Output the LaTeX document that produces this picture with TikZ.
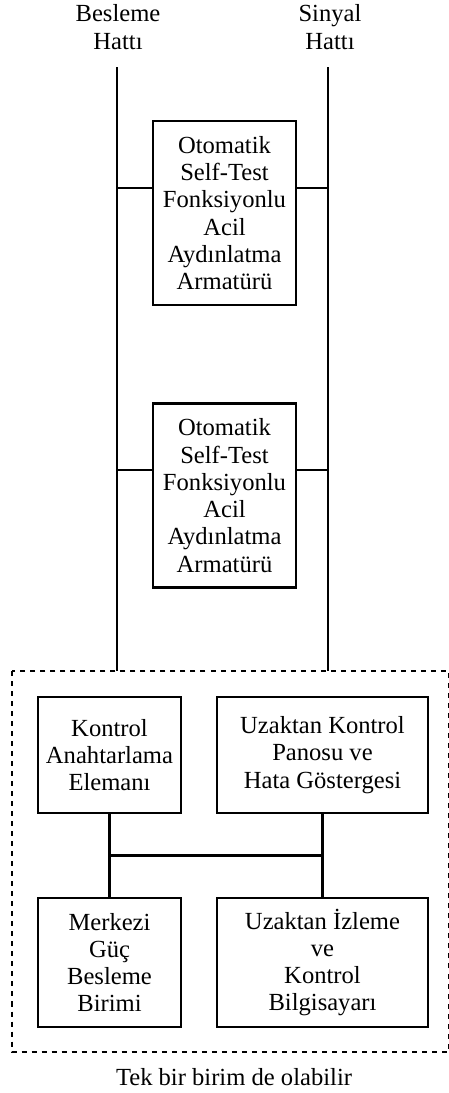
\documentclass[tikz,border=0pt]{standalone}
\usepackage{fontspec}
\setmainfont{Liberation Serif}
\usepackage{tikz}
\usetikzlibrary{calc}
\tikzset{
  armbox/.style={draw, line width=1.35pt, align=center, minimum width=2.86cm, minimum height=3.68cm, inner sep=0pt},
  unitbox/.style={draw, line width=1.35pt, align=center, minimum width=2.86cm, inner sep=0pt},
  hat/.style={line width=1.25pt},
  baslik/.style={align=center, inner sep=0pt}
}

\begin{document}
\begin{tikzpicture}[x=0.02cm, y=-0.02cm, font=\fontsize{14}{15.5}\selectfont]
  \useasboundingbox (0,0) rectangle (449,1093);
  % hatlar
  \node[baslik] (besleme) at (118,27) {Besleme\\Hattı};
  \node[baslik] (sinyal) at (330,27) {Sinyal\\Hattı};
  \coordinate (bt) at (117,67);
  \coordinate (bb) at (117,671);
  \coordinate (st) at (328,67);
  \coordinate (sb) at (328,671);
  \draw[hat] (bt) -- (bb);
  \draw[hat] (st) -- (sb);
  % armaturler
  \node[armbox] (arm1) at (224.5,213) {Otomatik\\Self-Test\\Fonksiyonlu\\Acil\\Aydınlatma\\Armatürü};
  \node[armbox] (arm2) at (224.5,495.5) {Otomatik\\Self-Test\\Fonksiyonlu\\Acil\\Aydınlatma\\Armatürü};
  \coordinate (a1l) at ([yshift=-1.36cm]arm1.north west);
  \coordinate (a1r) at ([yshift=-1.36cm]arm1.north east);
  \coordinate (a2l) at ([yshift=-1.36cm]arm2.north west);
  \coordinate (a2r) at ([yshift=-1.36cm]arm2.north east);
  \draw[hat] (a1l) -- (a1l -| bb);
  \draw[hat] (a1r) -- (a1r -| sb);
  \draw[hat] (a2l) -- (a2l -| bb);
  \draw[hat] (a2r) -- (a2r -| sb);
  % merkezi birim
  \draw[hat, dash pattern=on 2.85pt off 2.85pt] (12,671) rectangle (448.8,1052);
  \node[unitbox, minimum height=2.32cm] (kontrol) at (109.5,755) {Kontrol\\Anahtarlama\\Elemanı};
  \node[unitbox, minimum height=2.32cm, minimum width=4.22cm] (pano) at (322.5,755) {Uzaktan Kontrol\\Panosu ve\\Hata Göstergesi};
  \node[unitbox, minimum height=2.58cm] (merkez) at (109.5,962.5) {Merkezi\\Güç\\Besleme\\Birimi};
  \node[unitbox, minimum height=2.58cm, minimum width=4.22cm] (bilgisayar) at (322.5,962.5) {Uzaktan İzleme\\ve\\Kontrol\\Bilgisayarı};
  \draw[hat] (kontrol.south) -- (merkez.north);
  \draw[hat] (pano.south) -- (bilgisayar.north);
  \draw[hat] ($(kontrol.south)!.5!(merkez.north)$) -- ($(pano.south)!.5!(bilgisayar.north)$);
  \node[anchor=base, inner sep=0pt] (not) at (234,1085) {Tek bir birim de olabilir};
\end{tikzpicture}
\end{document}
